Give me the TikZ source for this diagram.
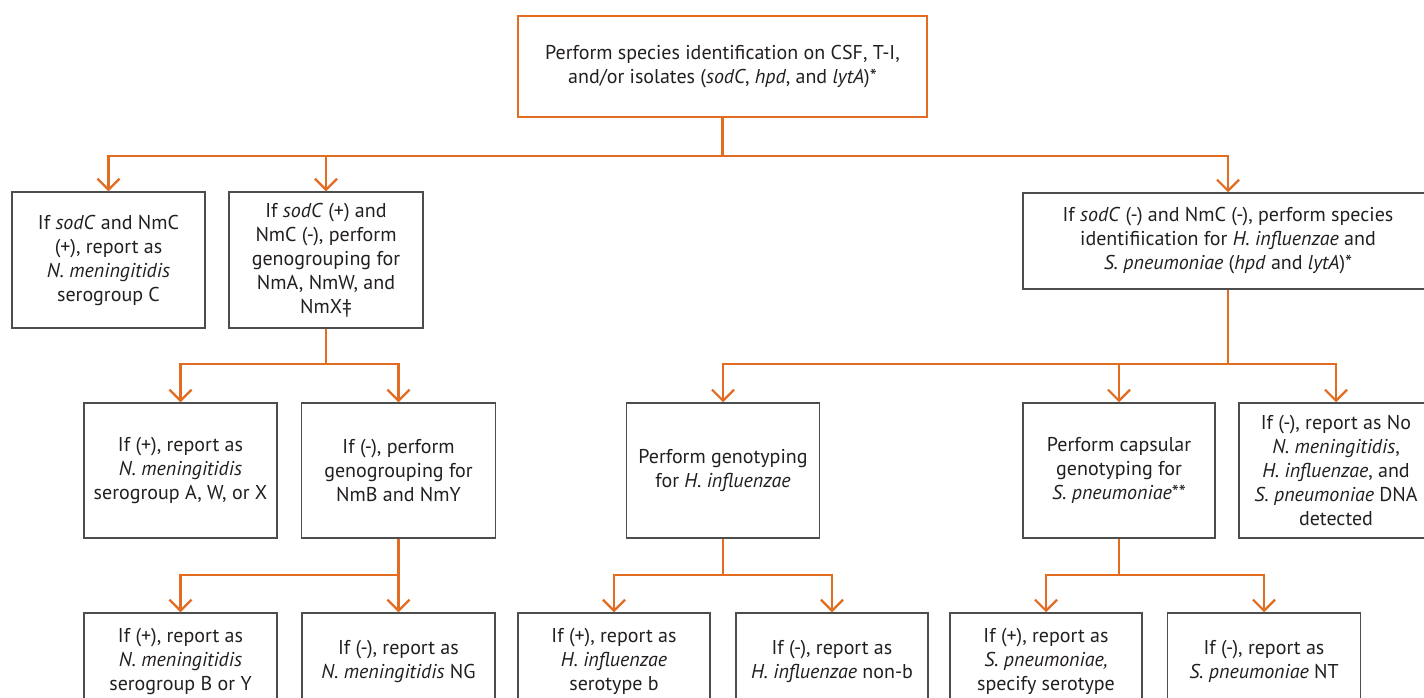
\documentclass[tikz,border=0pt]{standalone}
\usepackage{fontspec}
\setmainfont{PT Sans}
\usetikzlibrary{arrows.meta}
\definecolor{cdcorange}{RGB}{226,108,34}
\definecolor{boxgray}{RGB}{77,77,77}
\definecolor{txt}{RGB}{35,31,32}
\tikzset{
  box/.style={draw=boxgray, line width=1.5pt, rectangle, align=center, inner sep=0pt,
    text=txt, font=\fontsize{20}{24}\selectfont},
  topbox/.style={box, draw=cdcorange, line width=2.5pt},
  conn/.style={draw=cdcorange, line width=2.4pt},
  arr/.style={conn, -{Straight Barb[length=11pt,width=22pt,line width=2.2pt]}},
  sz/.style 2 args={minimum width=#1, minimum height=#2},
}
\begin{document}
\begin{tikzpicture}[x=1pt,y=-1pt]
\useasboundingbox (0,0) rectangle (1424,697);
\clip (0,0) rectangle (1424,697);
\fill[white] (0,0) rectangle (1424,697);
% top
\node[topbox, sz={409}{101}] (top) at (722.5,66.5) {Perform species identification on CSF, T-I,\\ and/or isolates (\textit{sodC}, \textit{hpd}, and \textit{lytA})*};
% row 2
\node[box, sz={193}{136}] (r2a) at (108.5,260) {If \textit{sodC} and NmC\\ (+), report as\\ \textit{N. meningitidis}\\ serogroup C};
\node[box, sz={194}{136}] (r2b) at (326,260) {If \textit{sodC} (+) and\\ NmC (-), perform\\ genogrouping for\\ NmA, NmW, and\\ NmX‡};
\node[box, sz={410}{96}] (r2c) at (1228,241) {If \textit{sodC} (-) and NmC (-), perform species\\ identifiication for \textit{H. influenzae} and\\ \textit{S. pneumoniae} (\textit{hpd} and \textit{lytA})*};
% row 3
\node[box, sz={193}{135}] (r3a) at (180.5,470.5) {If (+), report as\\ \textit{N. meningitidis}\\ serogroup A, W, or X};
\node[box, sz={194}{135}] (r3b) at (398.5,470.5) {If (-), perform\\ genogrouping for\\ NmB and NmY};
\node[box, sz={193}{135}] (r3c) at (723,470.5) {Perform genotyping\\ for \textit{H. influenzae}};
\node[box, sz={192}{135}] (r3d) at (1119,470.5) {Perform capsular\\ genotyping for\\ \textit{S. pneumoniae}**};
\node[box, sz={194}{135}] (r3e) at (1336,470.5) {If (-), report as No\\ \textit{N. meningitidis},\\ \textit{H. influenzae}, and\\ \textit{S. pneumoniae} DNA\\ detected};
% row 4
\node[box, sz={193}{96}] (b1) at (180.5,661) {If (+), report as\\ \textit{N. meningitidis}\\ serogroup B or Y};
\node[box, sz={193}{96}] (b2) at (398.5,661) {If (-), report as\\ \textit{N. meningitidis} NG};
\node[box, sz={192}{96}] (b3) at (614,661) {If (+), report as\\ \textit{H. influenzae}\\ serotype b};
\node[box, sz={192}{96}] (b4) at (832,661) {If (-), report as\\ \textit{H. influenzae} non-b};
\node[box, sz={192}{96}] (b5) at (1046,661) {If (+), report as\\ \textit{S. pneumoniae,}\\ specify serotype};
\node[box, sz={193}{96}] (b6) at (1264,661) {If (-), report as\\ \textit{S. pneumoniae} NT};
% bus levels
\coordinate (busA) at (0,156);
\coordinate (busB) at (0,364);
\coordinate (busC) at (0,575);
% connectors level 1
\draw[conn] (top.south) -- (top.south |- busA);
\draw[arr] (top.south |- busA) -| (r2a.north);
\draw[arr] (top.south |- busA) -| (r2c.north);
\draw[arr] (r2b.north |- busA) -- (r2b.north);
% level 2 left
\draw[conn] (r2b.south) -- (r2b.south |- busB);
\draw[arr] (r2b.south |- busB) -| (r3a.north);
\draw[arr] (r2b.south |- busB) -| (r3b.north);
% level 2 right
\draw[conn] (r2c.south) -- (r2c.south |- busB);
\draw[arr] (r2c.south |- busB) -| (r3c.north);
\draw[arr] (r2c.south |- busB) -| (r3e.north);
\draw[arr] (r3d.north |- busB) -- (r3d.north);
% level 3
\draw[arr] (r3b.south) |- (b1.north |- busC) -- (b1.north);
\draw[arr] (r3b.south) -- (b2.north);
\draw[conn] (r3c.south) -- (r3c.south |- busC);
\draw[arr] (r3c.south |- busC) -| (b3.north);
\draw[arr] (r3c.south |- busC) -| (b4.north);
\draw[conn] (r3d.south) -- (r3d.south |- busC);
\draw[arr] (r3d.south |- busC) -| (b5.north);
\draw[arr] (r3d.south |- busC) -| (b6.north);
\end{tikzpicture}
\end{document}
